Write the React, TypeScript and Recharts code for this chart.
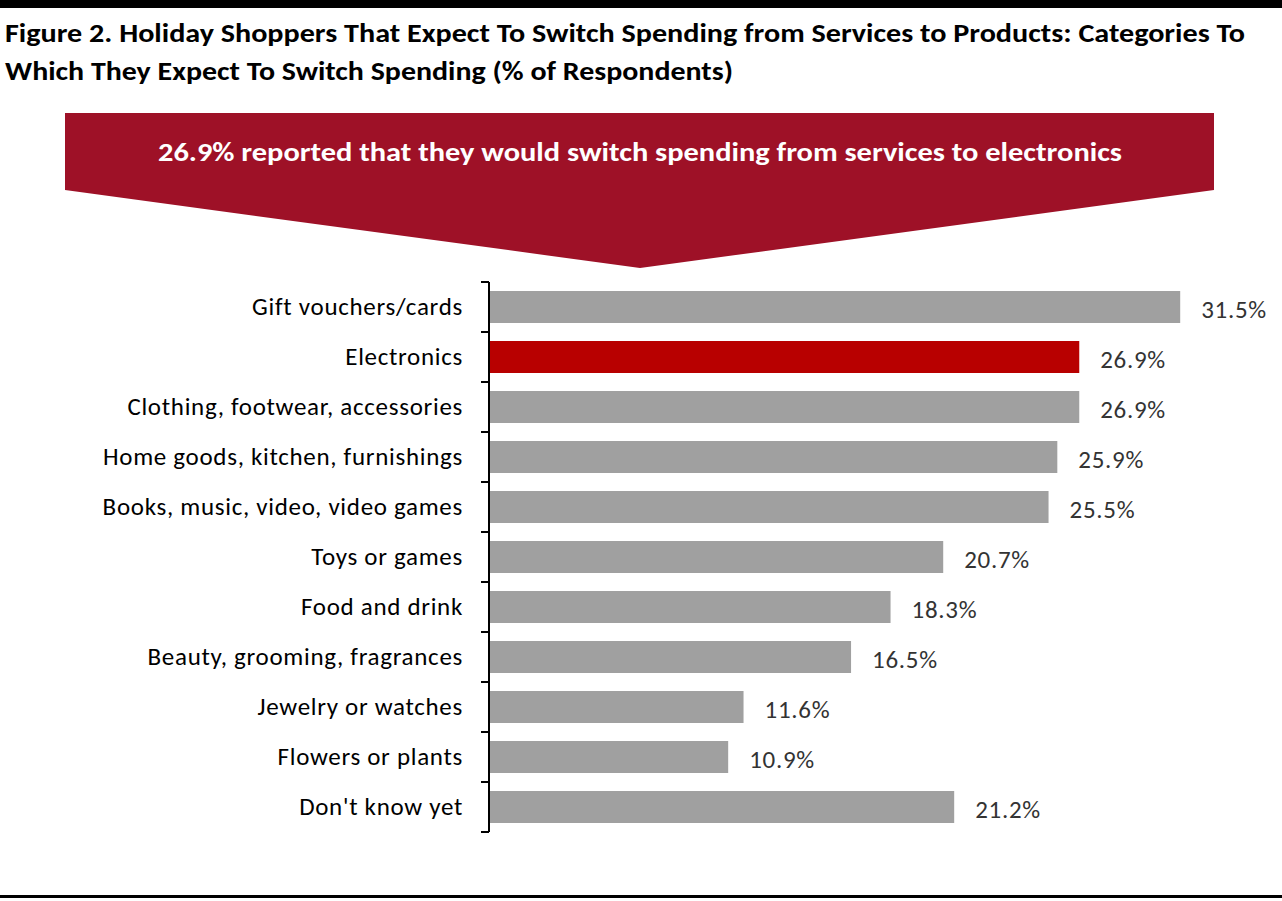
import { BarChart, Bar, XAxis, YAxis, Cell, LabelList } from 'recharts'

const categories = [
  'Gift vouchers/cards',
  'Electronics',
  'Clothing, footwear, accessories',
  'Home goods, kitchen, furnishings',
  'Books, music, video, video games',
  'Toys or games',
  'Food and drink',
  'Beauty, grooming, fragrances',
  'Jewelry or watches',
  'Flowers or plants',
  "Don't know yet",
]
const values = [31.5, 26.9, 26.9, 25.9, 25.5, 20.7, 18.3, 16.5, 11.6, 10.9, 21.2]
const highlight = 'Electronics'
const titleLines = [
  'Figure 2. Holiday Shoppers That Expect To Switch Spending from Services to Products: Categories To',
  'Which They Expect To Switch Spending (% of Respondents)',
]
const bannerText = '26.9% reported that they would switch spending from services to electronics'

const data = categories.map((name, i) => ({ name, value: values[i] }))

const FONT = 'Carlito, Lato, "Open Sans", sans-serif'
const BAND = 50 // 550px plot height / 11 categories

function CategoryTick(props: any) {
  const { x, y, payload, index } = props
  const lx = x + 18
  return (
    <g>
      <text x={x} y={y} dy={8} textAnchor="end" fontSize={25} letterSpacing={0.7} fill="#000" fontFamily={FONT}>
        {payload.value}
      </text>
      <line x1={lx} x2={lx + 8} y1={y - BAND / 2} y2={y - BAND / 2} stroke="#000" strokeWidth={2} />
      {index === categories.length - 1 && (
        <line x1={lx} x2={lx + 8} y1={y + BAND / 2} y2={y + BAND / 2} stroke="#000" strokeWidth={2} />
      )}
    </g>
  )
}

export default function App() {
  return (
    <div style={{ position: 'absolute', left: 0, top: 0, width: 1282, height: 901, background: '#fff', fontFamily: FONT }}>
      <svg width={1282} height={901} style={{ position: 'absolute', left: 0, top: 0 }}>
        <rect x={0} y={0} width={1282} height={8} fill="#000" />
        <text x={5} y={42} fontSize={27} fontWeight="bold" fill="#000" textLength={1240} lengthAdjust="spacingAndGlyphs">
          {titleLines[0]}
        </text>
        <text x={5} y={80} fontSize={27} fontWeight="bold" fill="#000" textLength={728} lengthAdjust="spacingAndGlyphs">
          {titleLines[1]}
        </text>
        <polygon points="65,113 1214,113 1214,190 640,268 65,190" fill="#9e1127" />
        <text x={640} y={161} fontSize={27} fontWeight="bold" fill="#fff" textAnchor="middle" textLength={964} lengthAdjust="spacingAndGlyphs">
          {bannerText}
        </text>
        <rect x={0} y={895} width={1282} height={3} fill="#000" />
      </svg>
      <div style={{ position: 'absolute', left: 0, top: 0 }}>
        <BarChart width={1282} height={901} data={data} layout="vertical" margin={{ top: 282, right: 25, bottom: 69, left: 0 }} barSize={32}>
          <XAxis type="number" domain={[0, 35]} hide />
          <YAxis
            type="category"
            dataKey="name"
            width={489}
            axisLine={{ stroke: '#000', strokeWidth: 2 }}
            tickLine={false}
            tickSize={8}
            tickMargin={18}
            tick={<CategoryTick />}
            interval={0}
          />
          <Bar dataKey="value" fill="#a0a0a0" isAnimationActive={false}>
            {data.map((d, i) => (
              <Cell key={i} fill={d.name === highlight ? '#b80000' : '#a0a0a0'} />
            ))}
            <LabelList
              dataKey="value"
              position="right"
              offset={21}
              formatter={(v: any) => `${Number(v).toFixed(1)}%`}
              fill="#333"
              fontSize={25}
              letterSpacing={0.7}
              fontFamily={FONT}
              dy={2}
            />
          </Bar>
        </BarChart>
      </div>
    </div>
  )
}
